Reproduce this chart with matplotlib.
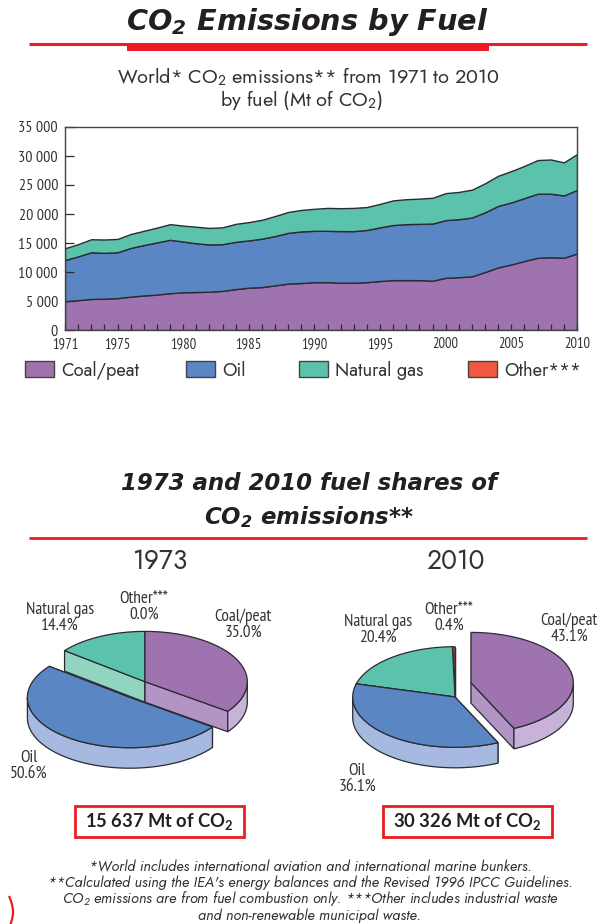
import numpy as np
import matplotlib
matplotlib.use("Agg")
import matplotlib.pyplot as plt
from matplotlib import font_manager
from matplotlib.patches import Polygon, Rectangle

# ------------------------
# data
# ------------------------
years = list(range(1971, 2011))
coal = [4950, 5150, 5350, 5400, 5500, 5750, 5950, 6100, 6350, 6500,
        6550, 6600, 6750, 7050, 7300, 7400, 7700, 8000, 8100, 8250,
        8250, 8150, 8150, 8250, 8450, 8600, 8600, 8600, 8500, 9000,
        9100, 9250, 10000, 10800, 11300, 11900, 12450, 12550, 12450, 13200]
oil = [7100, 7550, 8050, 7900, 7900, 8400, 8700, 9000, 9200, 8750,
       8400, 8150, 8050, 8150, 8150, 8350, 8500, 8750, 8900, 8850,
       8850, 8900, 8900, 9000, 9250, 9500, 9650, 9700, 9850, 9950,
       10000, 10150, 10300, 10600, 10700, 10850, 11050, 10950, 10750, 10950]
gas = [2050, 2100, 2250, 2300, 2300, 2400, 2450, 2550, 2700, 2750,
       2850, 2850, 2900, 3100, 3150, 3250, 3450, 3600, 3700, 3800,
       3950, 3950, 4000, 3950, 4050, 4250, 4300, 4350, 4450, 4650,
       4700, 4800, 5000, 5200, 5400, 5550, 5800, 5900, 5700, 6180]

x_tick_years = [1971, 1975, 1980, 1985, 1990, 1995, 2000, 2005, 2010]
y_ticks = [0, 5000, 10000, 15000, 20000, 25000, 30000, 35000]
y_tick_labels = ["0", "5 000", "10 000", "15 000", "20 000", "25 000", "30 000", "35 000"]

fuels = ["Coal/peat", "Oil", "Natural gas", "Other***"]
shares_1973 = [35.0, 50.6, 14.4, 0.0]
shares_2010 = [43.1, 36.1, 20.4, 0.4]

# ------------------------
# styles
# ------------------------
top_colors = ["#9e73b0", "#5a86c3", "#5bc2ab", "#f15a40"]
cut_colors = ["#b395c5", "#a6b9e0", "#91d4c0", "#f15a40"]
side_colors = ["#c9b2d8", "#a6b9e0", "#91d4c0", "#f15a40"]
RED = "#ed1c24"
INK = "#333333"
LINE = "#2b2b33"

W, H = 598, 924
names = {f.name for f in font_manager.fontManager.ttflist}
BODY = "Jost" if "Jost" in names else "Lato"
NARROW = "PT Sans Narrow" if "PT Sans Narrow" in names else "Lato"
NARROW_SCALE = 1.0 if NARROW != "Lato" else 0.8
plt.rcParams["font.family"] = [BODY, "DejaVu Sans"]
plt.rcParams["mathtext.default"] = "regular"

fig = plt.figure(figsize=(W / 100, H / 100), dpi=100)

# overlay in pixel units, for the page furniture and the pies
page = fig.add_axes([0, 0, 1, 1])
page.set_xlim(0, W)
page.set_ylim(H, 0)
page.axis("off")


def label(x, y, s, size=14, **kw):
    kw.setdefault("ha", "center")
    kw.setdefault("va", "center")
    kw.setdefault("color", INK)
    page.text(x, y, s, fontsize=size, **kw)


# ------------------------
# headings
# ------------------------
label(307, 22, "CO$_2$ Emissions by Fuel", 20.7, family="DejaVu Sans",
      fontweight="bold", fontstyle="italic", color="#231f20")
page.plot([29, 587], [43.5, 43.5], color=RED, lw=2.2, solid_capstyle="butt")
page.add_patch(Rectangle((127, 43), 362, 8, color=RED, lw=0))
label(308, 77, "World* CO$_2$ emissions** from 1971 to 2010", 14.3)
label(301, 100, "by fuel (Mt of CO$_2$)", 14.3)

label(309, 484, "1973 and 2010 fuel shares of", 16.5, family="DejaVu Sans",
      fontweight="bold", fontstyle="italic", color="#231f20")
label(309, 517, "CO$_2$ emissions**", 16.5, family="DejaVu Sans",
      fontweight="bold", fontstyle="italic", color="#231f20")
page.plot([29, 587], [537.5, 537.5], color=RED, lw=2.0, solid_capstyle="butt")
label(161, 561, "1973", 19)
label(456, 561, "2010", 19)

# ------------------------
# stacked area
# ------------------------
ax = fig.add_axes([65 / W, 1 - 330 / H, 512 / W, 203 / H])
ax.stackplot(years, coal, oil, gas, colors=top_colors[:3], edgecolor=LINE, linewidth=1.0)
ax.set_xlim(1971, 2010)
ax.set_ylim(0, 35000)
ax.set_yticks(y_ticks)
ax.set_yticklabels(y_tick_labels, family=NARROW, fontsize=11.5 * NARROW_SCALE, color=INK)
ax.set_xticks(years, minor=True)
ax.set_xticks(x_tick_years)
ax.set_xticklabels([str(y) for y in x_tick_years], family=NARROW, fontsize=10.5 * NARROW_SCALE, color=INK)
ax.tick_params(axis="y", direction="in", length=6.5, width=0.9, color=LINE, pad=5)
ax.tick_params(axis="x", which="both", direction="in", length=4.5, width=0.9, color=LINE, pad=5)
for spine in ax.spines.values():
    spine.set_color("#444444")
    spine.set_linewidth(1.0)

# legend, placed by hand like the original
legend_x = [25, 186, 299, 468]
for x0, name, col in zip(legend_x, fuels, top_colors):
    page.add_patch(Rectangle((x0, 361), 29, 16, facecolor=col, edgecolor="#444444", lw=1.0))
    label(x0 + 36, 371, name, 13.2, ha="left")


# ------------------------
# 3D pies
# ------------------------
def rim(cx, cy, a, b, t0, t1):
    t = np.radians(np.linspace(t0, t1, max(2, int(abs(t1 - t0)) + 2)))
    return cx + a * np.sin(t), cy - b * np.cos(t)


def draw_pie(cx, cy, shares, offsets, a=102.3, b=50.3, depth=20.5):
    edges = np.concatenate([[0], np.cumsum(shares)]) * 3.6
    mids = [(edges[i] + edges[i + 1]) / 2 for i in range(len(shares))]
    # back to front
    for i in sorted(range(len(shares)), key=lambda k: -np.cos(np.radians(mids[k]))):
        if shares[i] <= 0:
            continue
        t0, t1 = edges[i], edges[i + 1]
        px = cx + offsets[i][0]
        py = cy + offsets[i][1]
        # cut faces
        for t in (t0, t1):
            ex, ey = rim(px, py, a, b, t, t)
            quad = [(px, py), (ex[0], ey[0]), (ex[0], ey[0] + depth), (px, py + depth)]
            page.add_patch(Polygon(quad, facecolor=cut_colors[i], edgecolor=LINE, lw=0.9))
        # outer wall, only the front half of the rim shows
        w0, w1 = max(t0, 90), min(t1, 270)
        if w1 > w0:
            rx, ry = rim(px, py, a, b, w0, w1)
            pts = list(zip(rx, ry)) + list(zip(rx[::-1], ry[::-1] + depth))
            page.add_patch(Polygon(pts, facecolor=side_colors[i], edgecolor=LINE, lw=0.9))
        # top face
        rx, ry = rim(px, py, a, b, t0, t1)
        pts = [(px, py)] + list(zip(rx, ry))
        page.add_patch(Polygon(pts, facecolor=top_colors[i], edgecolor=LINE, lw=0.9))


draw_pie(145, 681.7, shares_1973, [(0, 0), (-15.3, 15.7), (0, 0), (0, 0)])
draw_pie(455, 697, shares_2010, [(16, -14.3), (0, 0), (0, 0), (0, 0)])


def pie_label(x, y, i, shares, **kw):
    label(x, y, f"{fuels[i]}\n{shares[i]:.1f}%", 12.5 * NARROW_SCALE, family=NARROW, linespacing=1.0, **kw)


pie_label(243, 625, 0, shares_1973)
pie_label(29, 766, 1, shares_1973)
pie_label(60, 618, 2, shares_1973)
pie_label(144, 607, 3, shares_1973)
pie_label(569, 629, 0, shares_2010)
pie_label(357, 779, 1, shares_2010)
pie_label(378, 630, 2, shares_2010)
pie_label(449, 618, 3, shares_2010)

# ------------------------
# totals
# ------------------------
for x0, x1, s in [(75, 244, "15 637 Mt of CO$_2$"), (383, 552, "30 326 Mt of CO$_2$")]:
    page.add_patch(Rectangle((x0, 806), x1 - x0, 30.5, facecolor="white", edgecolor=RED, lw=2.0))
    label((x0 + x1) / 2, 821, s, 13.2, family=["Lato", "DejaVu Sans"], fontweight="bold", color="#231f20")

# ------------------------
# footnotes
# ------------------------
notes = [
    "*World includes international aviation and international marine bunkers.",
    "**Calculated using the IEA's energy balances and the Revised 1996 IPCC Guidelines.",
    "CO$_2$ emissions are from fuel combustion only. ***Other includes industrial waste",
    "and non-renewable municipal waste.",
]
for y, s in zip([867, 883, 899, 916], notes):
    label(310, y, s, 10.5, fontstyle="italic")

# torn bit of a red ring at the bottom left corner of the page
ry = np.linspace(897, 924, 20)
page.plot(9.5 + 3.5 * np.sin((ry - 897) / 27 * np.pi * 0.9), ry, color=RED, lw=1.6)

fig.savefig("out.png", dpi=100)
